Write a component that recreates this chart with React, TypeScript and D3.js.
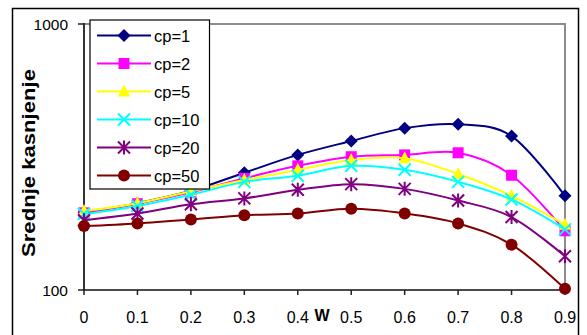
import React from "react";
import * as d3 from "d3";

const xValues = [0, 0.1, 0.2, 0.3, 0.4, 0.5, 0.6, 0.7, 0.8, 0.9];
const xTickLabels = ["0", "0.1", "0.2", "0.3", "0.4", "0.5", "0.6", "0.7", "0.8", "0.9"];
const yTickValues = [100, 1000];
const seriesNames = ["cp=1", "cp=2", "cp=5", "cp=10", "cp=20", "cp=50"];
const cp1 = [196, 212, 236, 276, 322, 363, 406, 420, 379, 226];
const cp2 = [195, 211, 233, 263, 293, 317, 322, 328, 270, 167];
const cp5 = [198, 212, 235, 259, 283, 308, 313, 273, 226, 176];
const cp10 = [193, 207, 228, 255, 269, 293, 283, 255, 219, 169];
const cp20 = [183, 194, 210, 221, 238, 250, 240, 217, 188, 134];
const cp50 = [174, 178, 184, 191, 194, 202, 194, 178, 148, 101];
const seriesValues = [cp1, cp2, cp5, cp10, cp20, cp50];
const colors = ["#000080", "#FF00FF", "#FFFF00", "#00FFFF", "#800080", "#800000"];
const markerTypes = ["diamond", "square", "triangle", "x", "star", "circle"];

const W = 587;
const H = 335;
const left = 84;
const right = 565;
const top = 24;
const bottom = 290;

function Marker({ type, x, y, color }: { type: string; x: number; y: number; color: string }) {
  const t = `translate(${x},${y})`;
  if (type === "diamond") return <path transform={t} d="M0,-6.5L6.5,0L0,6.5L-6.5,0Z" fill={color} />;
  if (type === "square") return <rect x={x - 5.5} y={y - 5.5} width={11} height={11} fill={color} />;
  if (type === "triangle") return <path transform={t} d="M0,-7L6,5L-6,5Z" fill={color} />;
  if (type === "x")
    return <path transform={t} d="M-6,-6L6,6M-6,6L6,-6" stroke={color} strokeWidth={2} fill="none" />;
  if (type === "star")
    return (
      <path transform={t} d="M-6,-6L6,6M-6,6L6,-6M0,-7L0,7" stroke={color} strokeWidth={2} fill="none" />
    );
  return <circle cx={x} cy={y} r={6} fill={color} />;
}

export default function App() {
  const x = d3.scaleLinear().domain([0, 0.9]).range([left, right]);
  const y = d3.scaleLog().domain([100, 1000]).range([bottom, top]);
  const line = d3
    .line<number>()
    .x((_, i) => x(xValues[i]))
    .y((d) => y(d))
    .curve(d3.curveCardinal.tension(0));

  const font = "Arial, 'Liberation Sans', sans-serif";
  const legX = 90;
  const legY = 20;
  const rowH = 28;

  return (
    <svg width={W} height={H} style={{ position: "absolute", left: 0, top: 0 }} fontFamily={font}>
      <rect x={0} y={0} width={W} height={H} fill="#fff" />
      <rect x={12.5} y={8.5} width={566} height={340} fill="none" stroke="#000" strokeWidth={1.5} />
      {/* plot area border */}
      <path d={`M${left},${top}H${right}V${bottom}`} fill="none" stroke="#8c8c8c" strokeWidth={2} />
      {/* axes */}
      <line x1={left} x2={left} y1={top - 1} y2={bottom} stroke="#333" strokeWidth={2} />
      <line x1={left - 1} x2={right + 1} y1={bottom} y2={bottom} stroke="#111" strokeWidth={1.5} />
      {yTickValues.map((v) => (
        <g key={v}>
          <line x1={left - 6} x2={left} y1={y(v)} y2={y(v)} stroke="#222" strokeWidth={1.5} />
          <text x={68} y={y(v)} textAnchor="end" dominantBaseline="central" fontSize={15.5} fill="#000">
            {v}
          </text>
        </g>
      ))}
      {xValues.map((v, i) => (
        <g key={i}>
          <line x1={x(v)} x2={x(v)} y1={bottom} y2={bottom + 5} stroke="#222" strokeWidth={1.5} />
          <text x={x(v)} y={323} textAnchor="middle" fontSize={16} fill="#000">
            {xTickLabels[i]}
          </text>
        </g>
      ))}
      <text x={322} y={321} textAnchor="middle" fontSize={16} fontWeight="bold" fill="#000">
        W
      </text>
      <text
        transform="translate(28,163) rotate(-90)"
        textAnchor="middle"
        dominantBaseline="central"
        fontSize={19}
        fontWeight="bold"
        textLength={188}
        lengthAdjust="spacingAndGlyphs"
        fill="#000"
      >
        Srednje kasnjenje
      </text>
      {/* series */}
      {seriesValues.map((vals, s) => (
        <g key={s}>
          <path d={line(vals) || ""} fill="none" stroke={colors[s]} strokeWidth={2} />
          {vals.map((v, i) => (
            <Marker key={i} type={markerTypes[s]} x={x(xValues[i])} y={y(v)} color={colors[s]} />
          ))}
        </g>
      ))}
      {/* legend */}
      <rect x={legX} y={legY} width={119.5} height={169} fill="#fff" stroke="#000" strokeWidth={1.2} />
      {seriesNames.map((name, s) => {
        const cy = legY + 15.5 + s * rowH;
        return (
          <g key={name}>
            <line x1={97} x2={151} y1={cy} y2={cy} stroke={colors[s]} strokeWidth={2} />
            <Marker type={markerTypes[s]} x={124} y={cy} color={colors[s]} />
            <text x={154} y={cy} dominantBaseline="central" fontSize={16.5} fill="#000">
              {name}
            </text>
          </g>
        );
      })}
    </svg>
  );
}
